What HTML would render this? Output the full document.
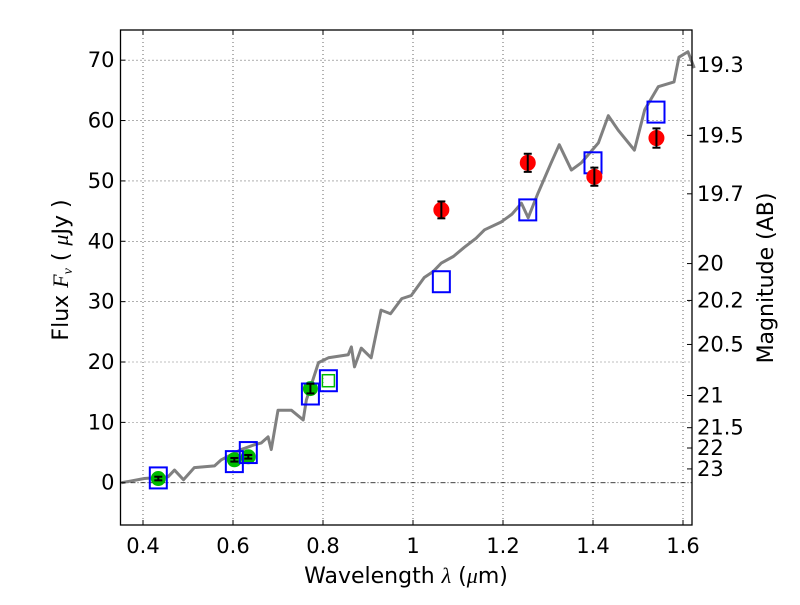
<!DOCTYPE html>
<html><head><meta charset="utf-8"><style>
body{margin:0;background:#fff}
svg text{font-family:"DejaVu Sans","Liberation Sans",sans-serif;fill:#000}
</style></head><body>
<svg id="chart" width="800" height="600">
<rect width="800" height="600" fill="#fff"/>
<g id="grid"></g><g id="spec"></g><g id="marks"></g><g id="axes"></g>
</svg>
<script>
const xTicks=[0.4,0.6,0.8,1.0,1.2,1.4,1.6];
const xTickLabels=["0.4","0.6","0.8","1","1.2","1.4","1.6"];
const yTicks=[0,10,20,30,40,50,60,70];
const magTicks=[19.3,19.5,19.7,20,20.2,20.5,21,21.5,22,23];
const specLam=[0.352,0.403,0.456,0.47,0.49,0.514,0.559,0.574,0.618,0.648,0.663,0.678,0.685,0.70,0.73,0.756,0.763,0.79,0.812,0.856,0.863,0.87,0.885,0.907,0.929,0.95,0.975,0.996,1.025,1.045,1.063,1.09,1.114,1.14,1.159,1.196,1.22,1.241,1.256,1.278,1.307,1.325,1.352,1.374,1.412,1.434,1.456,1.492,1.515,1.545,1.58,1.591,1.611,1.625];
const specFlux=[0,0.7,1,2.1,0.5,2.5,2.8,3.8,5.5,6.3,6.6,7.6,5.5,12,12,10.4,13.7,19.9,20.7,21.2,22.5,19.2,22.3,20.7,28.6,28,30.5,31,34,35,36.4,37.5,39,40.5,41.9,43.2,44.5,46.3,43.9,48,53,56,51.8,53,56.3,60.8,58.4,55.1,61.8,65.6,66.4,70.5,71.4,68.7];
const greenLam=[0.434,0.603,0.634,0.772];
const greenFlux=[0.7,3.8,4.3,15.6];
const greenErr=[0.3,0.3,0.3,0.8];
const blueLam=[0.434,0.603,0.634,0.772,0.812,1.063,1.255,1.40,1.54];
const blueFlux=[0.8,3.5,5,14.7,16.9,33.3,45.2,53,61.4];
const redLam=[1.063,1.255,1.403,1.541];
const redFlux=[45.2,53,50.7,57.1];
const redErr=[1.4,1.5,1.5,1.6];
const openGreenLam=[0.812];const openGreenFlux=[16.9];

const L=120.5,R=692,T=30,B=525,x0=0.35,x1=0.35+571.5/450,y0=-7,y1=75;
const X=v=>L+(v-x0)/(x1-x0)*(R-L);
const Y=v=>B-(v-y0)/(y1-y0)*(B-T);
const NS="http://www.w3.org/2000/svg";
function mk(p,tag,a){const e=document.createElementNS(NS,tag);for(const k in a)e.setAttribute(k,a[k]);document.getElementById(p).appendChild(e);return e;}
xTicks.forEach((t,i)=>{
 const g=mk('grid','line',{x1:X(t),x2:X(t),y1:T,y2:B,stroke:'#000','stroke-width':0.6,'stroke-dasharray':'1,3'});
 
 mk('axes','line',{x1:X(t),x2:X(t),y1:B,y2:B-5,stroke:'#000'});
 mk('axes','line',{x1:X(t),x2:X(t),y1:T,y2:T+5,stroke:'#000'});
 const tx=mk('axes','text',{x:X(t),y:B+28,'font-size':21,'text-anchor':'middle'});tx.textContent=xTickLabels[i];
 
});
yTicks.forEach(t=>{
 if(t!==0){const g=mk('grid','line',{x1:L,x2:R,y1:Y(t),y2:Y(t),stroke:'#000','stroke-width':0.6,'stroke-dasharray':'1,3'});
 }
 mk('axes','line',{x1:L,x2:L+5,y1:Y(t),y2:Y(t),stroke:'#000'});
 const tx=mk('axes','text',{x:L-6,y:Y(t)+7,'font-size':21,'text-anchor':'end'});tx.textContent=t;
 
});
const zl=mk('grid','line',{x1:L,x2:R,y1:Y(0),y2:Y(0),stroke:'#000','stroke-width':0.7,'stroke-dasharray':'5,2,1,2'});

magTicks.forEach(m=>{
 const f=Math.pow(10,(23.9-m)/2.5);
 mk('axes','line',{x1:R,x2:R-5,y1:Y(f),y2:Y(f),stroke:'#000'});
 const tx=mk('axes','text',{x:R+5,y:Y(f)+7,'font-size':21});tx.textContent=m;
 
});
const sp=mk('spec','polyline',{points:specLam.map((l,i)=>X(l)+','+Y(specFlux[i])).join(' '),fill:'none',stroke:'#808080','stroke-width':3,'stroke-linejoin':'round'});

greenLam.forEach((l,i)=>{
 const c=mk('marks','circle',{cx:X(l),cy:Y(greenFlux[i]),r:7.5,fill:'#00bb00'});
 
});
blueLam.forEach((l,i)=>{
 const r=mk('marks','rect',{x:X(l)-8.5,y:Y(blueFlux[i])-10.5,width:17,height:21,fill:'none',stroke:'#0000ff','stroke-width':2});
 
});
openGreenLam.forEach((l,i)=>{
 const r=mk('marks','rect',{x:X(l)-6,y:Y(openGreenFlux[i])-6,width:12,height:12,fill:'none',stroke:'#00bb00','stroke-width':1.5});
 
});
function err(l,f,e){
 const h=Math.max(e,0.25);
 mk('marks','line',{x1:X(l),x2:X(l),y1:Y(f+h),y2:Y(f-h),stroke:'#000','stroke-width':2});
 mk('marks','line',{x1:X(l)-4,x2:X(l)+4,y1:Y(f+h),y2:Y(f+h),stroke:'#000','stroke-width':2});
 mk('marks','line',{x1:X(l)-4,x2:X(l)+4,y1:Y(f-h),y2:Y(f-h),stroke:'#000','stroke-width':2});
}
greenLam.forEach((l,i)=>err(l,greenFlux[i],greenErr[i]));
redLam.forEach((l,i)=>{
 const c=mk('marks','circle',{cx:X(l),cy:Y(redFlux[i]),r:8,fill:'#ff0000'});
 
 err(l,redFlux[i],redErr[i]);
});
const fr=mk('axes','rect',{x:L,y:T,width:R-L,height:B-T,fill:'none',stroke:'#000','stroke-width':1.3});

</script>
<svg width="800" height="600" style="position:absolute;left:0;top:0">
<text x="406" y="583" font-size="22" text-anchor="middle">Wavelength  <tspan font-style="italic" font-family="Liberation Serif,serif">λ</tspan> (<tspan font-style="italic" font-family="Liberation Serif,serif">μ</tspan>m)</text>
<text transform="translate(68,270) rotate(-90)" font-size="22" text-anchor="middle">Flux  <tspan font-style="italic" font-family="Liberation Serif,serif">F<tspan font-size="14" dy="4">ν</tspan></tspan><tspan dy="-4">   (  </tspan><tspan font-style="italic" font-family="Liberation Serif,serif">μ</tspan>Jy )</text>
<text transform="translate(773,278) rotate(-90)" font-size="22" text-anchor="middle">Magnitude (AB)</text>
</svg>
</body></html>
